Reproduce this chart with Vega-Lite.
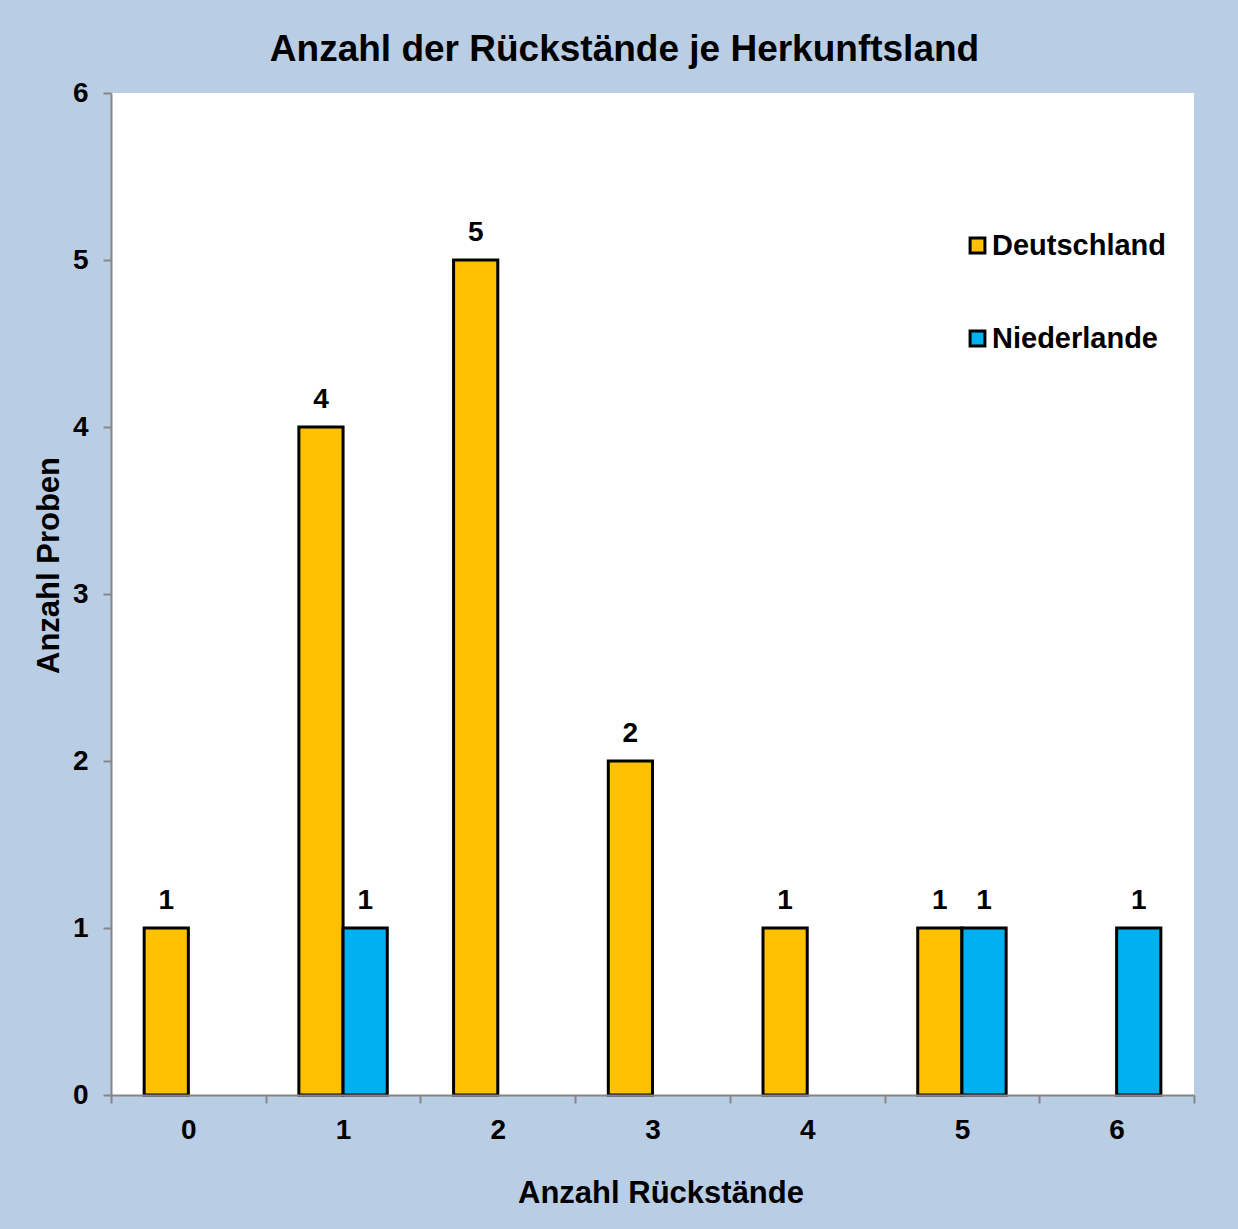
{
  "$schema": "https://vega.github.io/schema/vega-lite/v6.json",
  "autosize": {"type": "none"},
  "width": 1083,
  "height": 1002,
  "padding": {"left": 111, "top": 93, "right": 44, "bottom": 134},
  "background": "#B9CDE5",
  "config": {
    "view": {"fill": "white", "stroke": null},
    "font": "Liberation Sans"
  },
  "title": {
    "text": "Anzahl der Rückstände je Herkunftsland",
    "font": "Liberation Sans",
    "fontSize": 37,
    "fontWeight": "bold",
    "color": "black",
    "anchor": "middle",
    "frame": "group",
    "dx": -28,
    "dy": 50,
    "baseline": "alphabetic",
    "offset": 31
  },
  "data": {
    "values": [
      {"Rueckstaende": 0, "Land": "Deutschland", "Anzahl": 1},
      {"Rueckstaende": 1, "Land": "Deutschland", "Anzahl": 4},
      {"Rueckstaende": 1, "Land": "Niederlande", "Anzahl": 1},
      {"Rueckstaende": 2, "Land": "Deutschland", "Anzahl": 5},
      {"Rueckstaende": 3, "Land": "Deutschland", "Anzahl": 2},
      {"Rueckstaende": 4, "Land": "Deutschland", "Anzahl": 1},
      {"Rueckstaende": 5, "Land": "Deutschland", "Anzahl": 1},
      {"Rueckstaende": 5, "Land": "Niederlande", "Anzahl": 1},
      {"Rueckstaende": 6, "Land": "Niederlande", "Anzahl": 1}
    ]
  },
  "encoding": {
    "x": {
      "field": "Rueckstaende",
      "type": "ordinal",
      "scale": {"domain": [0, 1, 2, 3, 4, 5, 6], "paddingInner": 0, "paddingOuter": 0},
      "axis": {
        "title": "Anzahl Rückstände",
        "labelAngle": 0,
        "tickBand": "extent",
        "tickSize": 8,
        "tickWidth": 2,
        "domainWidth": 2,
        "domainColor": "#868686",
        "tickColor": "#868686",
        "labelPadding": 13,
        "labelFont": "Liberation Sans",
        "labelFontSize": 28,
        "labelFontWeight": "bold",
        "labelColor": "black",
        "titleFont": "Liberation Sans",
        "titleFontSize": 31,
        "titleFontWeight": "bold",
        "titleColor": "black",
        "titleX": 549.5,
        "titleY": 107,
        "titleBaseline": "alphabetic",
        "titleAlign": "center",
        "grid": false,
        "zindex": 1
      }
    },
    "xOffset": {
      "field": "Land",
      "type": "nominal",
      "scale": {"domain": ["Deutschland", "Niederlande"], "paddingInner": 0, "paddingOuter": 0.75}
    },
    "y": {
      "field": "Anzahl",
      "type": "quantitative",
      "scale": {"domain": [0, 6], "nice": false},
      "axis": {
        "title": "Anzahl Proben",
        "values": [0, 1, 2, 3, 4, 5, 6],
        "tickSize": 8,
        "tickWidth": 2,
        "domainWidth": 2,
        "domainColor": "#868686",
        "tickColor": "#868686",
        "labelPadding": 15,
        "labelFont": "Liberation Sans",
        "labelFontSize": 28,
        "labelFontWeight": "bold",
        "labelColor": "black",
        "titleFont": "Liberation Sans",
        "titleFontSize": 31,
        "titleFontWeight": "bold",
        "titleColor": "black",
        "titleAngle": 270,
        "titleX": -53,
        "titleY": 472,
        "titleBaseline": "alphabetic",
        "titleAlign": "center",
        "grid": false,
        "zindex": 1
      }
    }
  },
  "layer": [
    {
      "mark": {"type": "bar", "stroke": "black", "strokeWidth": 3},
      "encoding": {
        "color": {
          "field": "Land",
          "type": "nominal",
          "scale": {"domain": ["Deutschland", "Niederlande"], "range": ["#FFC000", "#00B0F0"]},
          "legend": {
            "title": null,
            "orient": "none",
            "legendX": 852,
            "legendY": 138,
            "padding": 0,
            "rowPadding": 63,
            "symbolType": "square",
            "symbolSize": 220,
            "symbolStrokeColor": "black",
            "symbolStrokeWidth": 3,
            "symbolOpacity": 1,
            "labelOffset": 0,
            "labelLimit": 0,
            "labelFont": "Liberation Sans",
            "labelFontSize": 29,
            "labelFontWeight": "bold",
            "labelColor": "black"
          }
        }
      }
    },
    {
      "mark": {"type": "text", "baseline": "alphabetic", "dy": -19, "fontSize": 28, "fontWeight": "bold", "font": "Liberation Sans", "color": "black"},
      "encoding": {
        "text": {"field": "Anzahl", "type": "quantitative"}
      }
    }
  ]
}
